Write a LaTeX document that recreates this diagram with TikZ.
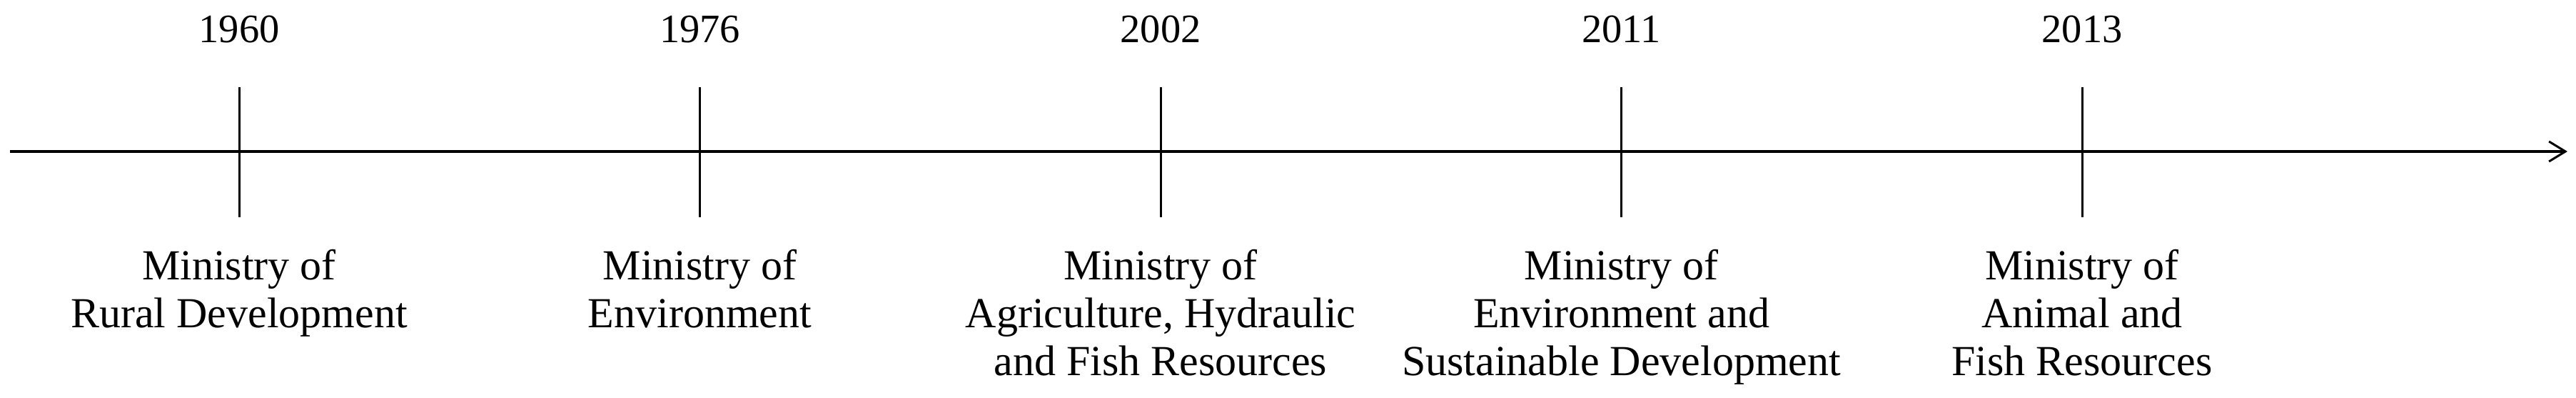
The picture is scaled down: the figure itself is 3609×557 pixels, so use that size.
\documentclass[tikz,border=0pt]{standalone}
\usepackage{fontspec}
\setmainfont{Liberation Serif}
\usetikzlibrary{arrows.meta}
\tikzset{
  axisline/.style={line width=0.75pt, -{Straight Barb[length=4.6pt,width=5.6pt,line width=0.6pt]}},
  tickline/.style={line width=0.6pt},
  yearlbl/.style={anchor=base, inner sep=0pt, font=\fontsize{11.3}{13.4}\selectfont},
  minlbl/.style={anchor=north, inner sep=0pt, align=center, font=\fontsize{12}{13.4}\selectfont}
}
\begin{document}
\begin{tikzpicture}[x=0.2pt,y=-0.2pt]
\useasboundingbox (0,0) rectangle (3609,557);
\coordinate (axs) at (14,212);
\coordinate (axe) at (3597,212);
\draw[axisline] (axs) -- (axe);
\foreach \i/\x/\yr in {1/335/1960,2/980.5/1976,3/1626/2002,4/2271.5/2011,5/2917/2013}{
  \coordinate (tt\i) at (\x,122);
  \coordinate (tb\i) at (\x,304);
  \draw[tickline] (tt\i) -- (tb\i);
  \node[yearlbl] (yr\i) at (\x,59.5) {\yr};
}
\node[minlbl] (m1) at (335,348) {Ministry of\\Rural Development};
\node[minlbl] (m2) at (980.5,348) {Ministry of\\Environment};
\node[minlbl] (m3) at (1626,348) {Ministry of\\Agriculture, Hydraulic\\and Fish Resources};
\node[minlbl] (m4) at (2271.5,348) {Ministry of\\Environment and\\Sustainable Development};
\node[minlbl] (m5) at (2917,348) {Ministry of\\Animal and\\Fish Resources};
\end{tikzpicture}
\end{document}
